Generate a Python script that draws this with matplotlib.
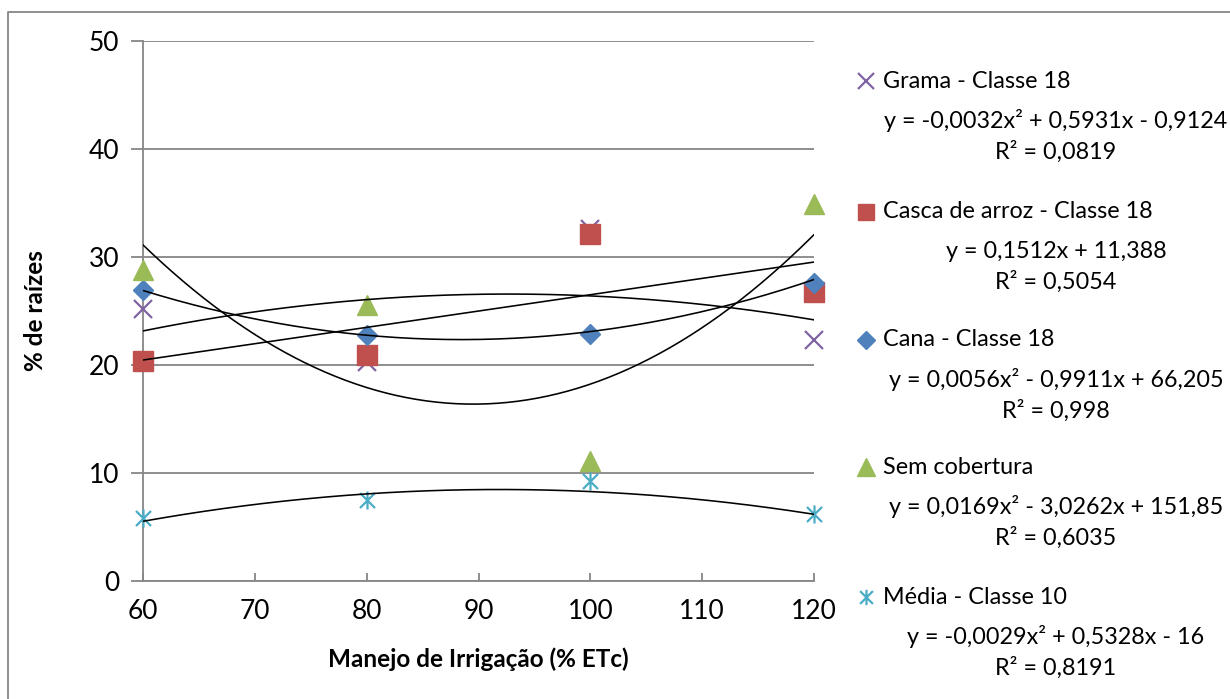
import numpy as np
import matplotlib
matplotlib.use('Agg')
import matplotlib.pyplot as plt
from matplotlib.path import Path
from matplotlib.lines import Line2D

plt.rcParams['font.family'] = ['Lato', 'DejaVu Sans']

# irrigation levels (% ETc)
manejo = [60, 80, 100, 120]

# % de raízes per cover
grama = [25.2, 20.3, 32.6, 22.3]
casca = [20.4, 20.9, 32.1, 26.8]
cana = [26.9, 22.8, 22.9, 27.6]
sem_cobertura = [28.8, 25.6, 11.1, 34.9]
media = [5.8, 7.5, 9.3, 6.2]

# trendline coefficients as shown on the chart (highest power first)
coef_grama = [-0.0032, 0.5931, -0.9124]
coef_casca = [0.1512, 11.388]
coef_cana = [0.0056, -0.9911, 66.205]
coef_sem = [0.0169, -3.0262, 151.85]
coef_media = [-0.0029, 0.5328, -16]

nomes = ['Grama - Classe 18', 'Casca de arroz - Classe 18', 'Cana - Classe 18',
         'Sem cobertura', 'Média - Classe 10']
equacoes = ['y = -0,0032x² + 0,5931x - 0,9124\nR² = 0,0819',
            'y = 0,1512x + 11,388\nR² = 0,5054',
            'y = 0,0056x² - 0,9911x + 66,205\nR² = 0,998',
            'y = 0,0169x² - 3,0262x + 151,85\nR² = 0,6035',
            'y = -0,0029x² + 0,5328x - 16\nR² = 0,8191']

# excel style asterisk marker
star = Path([(-1, -1), (1, 1), (-1, 1), (1, -1), (0, -1.2), (0, 1.2)],
            [Path.MOVETO, Path.LINETO, Path.MOVETO, Path.LINETO, Path.MOVETO, Path.LINETO])

series = [
    (grama, coef_grama, dict(marker='x', color='#8064A2', ms=13, mew=1.6)),
    (casca, coef_casca, dict(marker='s', color='#C0504D', ms=14)),
    (cana, coef_cana, dict(marker='D', color='#4F81BD', ms=10.5)),
    (sem_cobertura, coef_sem, dict(marker='^', color='#9BBB59', ms=15)),
    (media, coef_media, dict(marker=star, color='#4BACC6', ms=13, mew=1.6, fillstyle='none')),
]

gray = '#868686'
fig = plt.figure(figsize=[12.3, 6.99], dpi=100)
ax = fig.add_axes([143/1230, 1-581/699, (814-143)/1230, (581-41)/699])

xs = np.linspace(60, 120, 200)
for vals, coef, st in series:
    ax.plot(manejo, vals, linestyle='none', zorder=3, clip_on=False, **st)
    ax.plot(xs, np.polyval(coef, xs), color='black', lw=1.15, zorder=4)

ax.set_xlim(60, 120)
ax.set_ylim(0, 50)
ax.set_xticks(range(60, 121, 10))
ax.set_yticks(range(0, 51, 10))
ax.yaxis.grid(True, color=gray, lw=1.3)
ax.set_axisbelow(True)
for s in ['top', 'right']:
    ax.spines[s].set_visible(False)
for s in ['left', 'bottom']:
    ax.spines[s].set_color(gray)
    ax.spines[s].set_linewidth(1.3)
ax.tick_params(axis='y', direction='out', length=9, width=1.3, color=gray, labelsize=19, pad=8)
ax.tick_params(axis='x', direction='in', length=6, width=1.3, color=gray, labelsize=19, pad=13)
ax.set_ylabel('% de raízes', fontsize=17.5, fontweight='bold', labelpad=30)
ax.set_xlabel('Manejo de Irrigação (% ETc)', fontsize=17.5, fontweight='bold', labelpad=17)

# legend drawn by hand: marker, name, equation and R²
name_y = [81, 212, 340, 467, 597]
for (vals, coef, st), nome, eq, yy in zip(series, nomes, equacoes, name_y):
    yf = 1 - yy/699
    fig.add_artist(Line2D([866/1230], [yf], linestyle='none', transform=fig.transFigure,
                          **dict(st, ms=st['ms']*0.85)))
    fig.text(883/1230, yf, nome, fontsize=16.8, va='center', ha='left')
    fig.text(1056/1230, 1 - (yy + 55)/699, eq, fontsize=16.8, va='center', ha='center',
             linespacing=1.5)

# chart frame
fig.add_artist(Line2D([8/1230, 8/1230, 1.01], [-0.01, 1-12/699, 1-12/699],
                      transform=fig.transFigure, color=gray, lw=1.3))

fig.savefig('out.png', dpi=100)
